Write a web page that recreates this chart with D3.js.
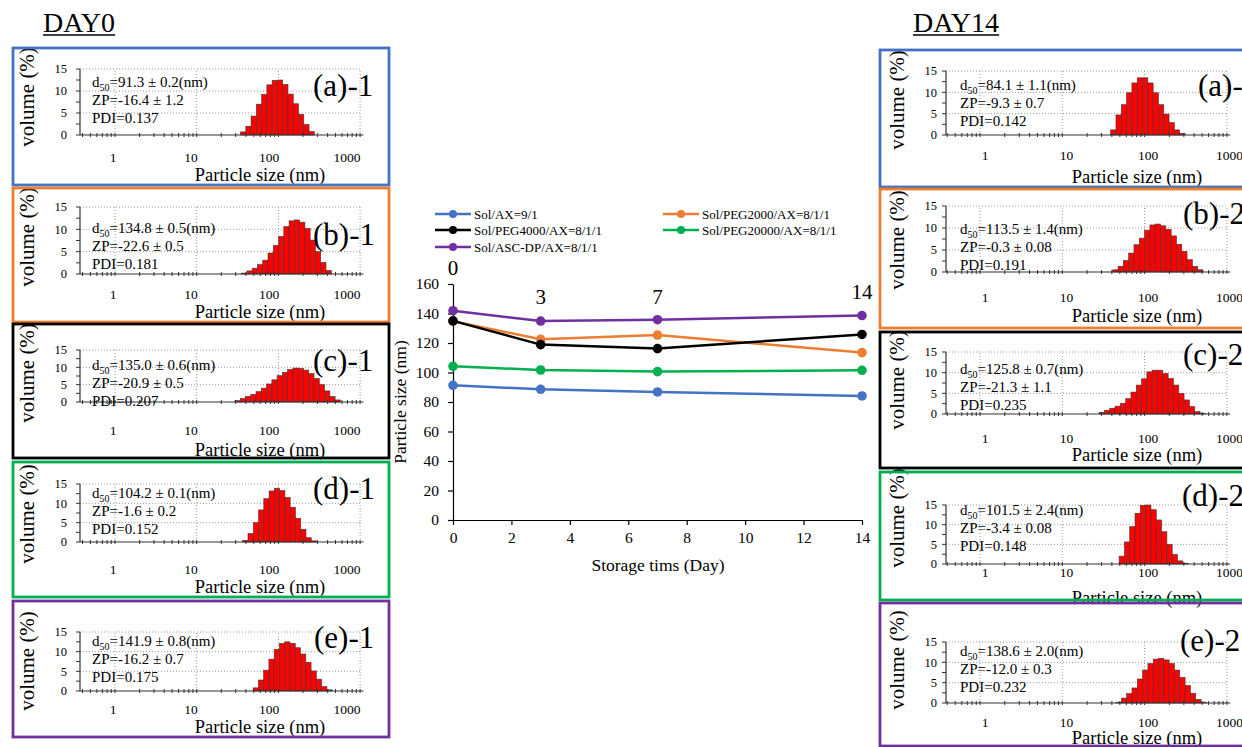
<!DOCTYPE html>
<html>
<head>
<meta charset="utf-8">
<script src="https://cdn.jsdelivr.net/npm/d3@7"></script>
<style>
  body { margin: 0; background: #fff; }
  svg { display: block; }
  svg text { font-family: "Liberation Serif", "Times New Roman", serif; }
</style>
</head>
<body>
<svg width="1242" height="747"></svg>
<script>
// ---- centre chart data ----
let days = [0, 3, 7, 14];
let dayTicks = [0, 2, 4, 6, 8, 10, 12, 14];
let sizeTicks = [0, 20, 40, 60, 80, 100, 120, 140, 160];
let seriesNames = ["Sol/AX=9/1", "Sol/PEG2000/AX=8/1/1", "Sol/PEG4000/AX=8/1/1",
                   "Sol/PEG20000/AX=8/1/1", "Sol/ASC-DP/AX=8/1/1"];
let seriesColors = ["#4472C4", "#ED7D31", "#000000", "#00B050", "#7030A0"];
let sizeAX = [91.3, 88.6, 86.8, 84.1];
let sizePEG2000 = [134.8, 122.5, 125.4, 113.5];
let sizePEG4000 = [135.0, 118.9, 116.2, 125.8];
let sizePEG20000 = [104.2, 101.7, 100.6, 101.5];
let sizeASC = [141.9, 134.9, 135.8, 138.6];
let dayLabels = ["0", "3", "7", "14"];

// ---- histogram panels data ----
let panelNames = ["(a)-1", "(b)-1", "(c)-1", "(d)-1", "(e)-1",
                  "(a)-2", "(b)-2", "(c)-2", "(d)-2", "(e)-2"];
let d50Values = ["91.3 ± 0.2", "134.8 ± 0.5", "135.0 ± 0.6", "104.2 ± 0.1", "141.9 ± 0.8",
                 "84.1 ± 1.1", "113.5 ± 1.4", "125.8 ± 0.7", "101.5 ± 2.4", "138.6 ± 2.0"];
let zpValues = ["-16.4 ± 1.2", "-22.6 ± 0.5", "-20.9 ± 0.5", "-1.6 ± 0.2", "-16.2 ± 0.7",
                "-9.3 ± 0.7", "-0.3 ± 0.08", "-21.3 ± 1.1", "-3.4 ± 0.08", "-12.0 ± 0.3"];
let pdiValues = ["0.137", "0.181", "0.207", "0.152", "0.175",
                 "0.142", "0.191", "0.235", "0.148", "0.232"];
// left edge of the first bar (nm)
let histStarts = [34.4, 35.5, 29.4, 36.6, 49, 38.7, 41, 28, 49, 45];
let histA1 = [0.7, 2.0, 4.3, 7.0, 9.2, 11.4, 12.4, 12.5, 11.5, 9.3, 7.1, 4.7, 2.4, 0.8];
let histB1 = [0.2, 0.7, 1.3, 2.1, 3.1, 4.7, 6.4, 8.4, 10.6, 11.9, 12.1, 11.6, 10.2, 7.6, 5.0, 2.6, 0.8];
let histC1 = [0.4, 1.0, 1.6, 2.2, 3.0, 4.0, 5.2, 6.4, 7.6, 8.6, 9.4, 9.8, 9.7, 9.2, 8.2, 6.8, 5.0, 3.2, 1.6, 0.6];
let histD1 = [0.4, 2.2, 5.0, 8.3, 11.2, 13.2, 13.9, 13.3, 11.5, 9.0, 6.1, 3.3, 1.1, 0.3];
let histE1 = [0.8, 2.8, 5.3, 8.1, 10.6, 12.1, 12.5, 12.1, 11.0, 9.4, 7.3, 5.1, 3.0, 1.1, 0.3];
let histA2 = [1.2, 4.7, 7.1, 9.9, 12.2, 13.4, 13.4, 12.2, 9.9, 7.1, 4.9, 2.9, 1.2, 0.4];
let histB2 = [0.5, 1.3, 2.6, 4.3, 6.2, 7.7, 9.5, 10.7, 10.9, 10.5, 9.7, 8.2, 6.3, 4.7, 2.8, 1.3, 0.5];
let histC2 = [0.4, 0.9, 1.4, 1.9, 2.6, 3.7, 5.3, 7.0, 8.5, 10.2, 10.6, 10.6, 9.8, 8.6, 7.0, 5.0, 3.4, 1.8, 0.6, 0.2];
let histD2 = [2.0, 5.6, 9.5, 12.9, 14.9, 15.0, 13.8, 11.2, 8.2, 5.0, 2.4, 0.8, 0.2];
let histE2 = [0.2, 1.2, 2.3, 3.7, 5.9, 8.1, 9.7, 10.8, 11.0, 10.6, 9.7, 8.1, 6.3, 4.3, 2.4, 0.9, 0.2];
let histograms = [histA1, histB1, histC1, histD1, histE1, histA2, histB2, histC2, histD2, histE2];
let volumeTicks = [0, 5, 10, 15];
let sizeLabels = [1, 10, 100, 1000];
let binsPerDecade = 15.5;

let svg = d3.select("svg");

// ---------------- layout of the panels (pixels) ----------------
// the tick labels of the pasted histograms sit on a slightly different spacing than the grid
let columns = [
    {axisX: 80, x1: 115, decade: 81.7, lab1: 113, labDecade: 78, textX: 92, ylabX: 67, titleX: 260, volX: 27, day: "DAY0", dayX: 43},
    {axisX: 946, x1: 980, decade: 82.3, lab1: 985, labDecade: 81.5, textX: 960, ylabX: 937, titleX: 1137, volX: 897, day: "DAY14", dayX: 913}
];
// box x,y,w,h | y of 15 and 0 | label x, baseline | text centre | volume centre | tick labels | title
let layout = [
    {box: [13, 48, 376, 137],  y15: 69,  y0: 135, lx: 313,  ly: 96,  ty: 82,  vy: 97,  xl: 162, tt: 181},
    {box: [13, 188, 376, 134], y15: 207, y0: 274, lx: 313,  ly: 245, ty: 228, vy: 237, xl: 299, tt: 318},
    {box: [13, 324, 376, 134], y15: 350, y0: 402, lx: 313,  ly: 371, ty: 365, vy: 373, xl: 435, tt: 456},
    {box: [13, 462, 376, 135], y15: 484, y0: 542, lx: 313,  ly: 499, ty: 493, vy: 514, xl: 574, tt: 593},
    {box: [13, 601, 376, 136], y15: 632, y0: 691, lx: 314,  ly: 648, ty: 641, vy: 661, xl: 714, tt: 733},
    {box: [880, 50, 376, 137], y15: 71,  y0: 135, lx: 1198, ly: 96,  ty: 85,  vy: 100, xl: 160, tt: 183},
    {box: [880, 189, 376, 139],y15: 206, y0: 272, lx: 1183, ly: 224, ty: 229, vy: 240, xl: 302, tt: 322},
    {box: [880, 332, 376, 136],y15: 352, y0: 414, lx: 1183, ly: 365, ty: 369, vy: 380, xl: 443, tt: 461},
    {box: [880, 472, 376, 128],y15: 505, y0: 564, lx: 1182, ly: 506, ty: 510, vy: 518, xl: 577, tt: 604},
    {box: [880, 603, 376, 143],y15: 642, y0: 703, lx: 1180, ly: 651, ty: 651, vy: 660, xl: 727, tt: 744}
];
let boxColors = ["#4472C4", "#ED7D31", "#000000", "#00B050", "#7030A0"];

// Day headings
columns.forEach(function(c) {
    let t = svg.append("text")
        .attr("x", c.dayX).attr("y", 32)
        .style("font-size", "28px")
        .text(c.day);
    let w = t.node().getComputedTextLength();
    svg.append("line")
        .attr("x1", c.dayX).attr("x2", c.dayX + w)
        .attr("y1", 35).attr("y2", 35)
        .style("stroke", "#000").style("stroke-width", 1.5);
});

function drawPanel(i) {
    let L = layout[i], C = columns[i < 5 ? 0 : 1];
    let g = svg.append("g");

    let xs = d3.scaleLog().domain([1, 1000]).range([C.x1, C.x1 + 3 * C.decade]);
    let xLab = d3.scaleLog().domain([1, 1000]).range([C.lab1, C.lab1 + 3 * C.labDecade]);
    let ys = d3.scaleLinear().domain([0, 15]).range([L.y0, L.y15]);
    let xEnd = xs(1100);

    // dotted grid
    g.selectAll(".hg").data(volumeTicks.slice(1)).enter().append("line")
        .attr("x1", C.axisX).attr("x2", xs(1000))
        .attr("y1", d => ys(d)).attr("y2", d => ys(d))
        .style("stroke", "#9a9a9a").style("stroke-dasharray", "1,2");
    g.selectAll(".vg").data(sizeLabels).enter().append("line")
        .attr("x1", d => xs(d)).attr("x2", d => xs(d))
        .attr("y1", L.y0).attr("y2", L.y15)
        .style("stroke", "#9a9a9a").style("stroke-dasharray", "1,2");

    // bars on log bins
    let r = Math.pow(10, 1 / binsPerDecade);
    let bars = histograms[i].map((v, k) => ({lo: histStarts[i] * Math.pow(r, k), hi: histStarts[i] * Math.pow(r, k + 1), v: v}));
    g.selectAll("rect").data(bars).enter().append("rect")
        .attr("x", d => xs(d.lo))
        .attr("width", d => xs(d.hi) - xs(d.lo))
        .attr("y", d => ys(d.v))
        .attr("height", d => ys(0) - ys(d.v))
        .style("fill", "#FF0000")
        .style("stroke", "#3a3a3a")
        .style("stroke-width", 0.6);

    // axes
    g.append("line").attr("x1", C.axisX).attr("x2", C.axisX).attr("y1", L.y0).attr("y2", L.y15)
        .style("stroke", "#333").style("stroke-width", 1.2);
    g.append("line").attr("x1", C.axisX).attr("x2", xEnd).attr("y1", L.y0).attr("y2", L.y0)
        .style("stroke", "#333").style("stroke-width", 1.2);
    g.selectAll(".yt").data(d3.range(0, 15.1, 2.5)).enter().append("line")
        .attr("x1", C.axisX - 4).attr("x2", C.axisX)
        .attr("y1", d => ys(d)).attr("y2", d => ys(d))
        .style("stroke", "#333");
    let minor = [];
    for (let e = -1; e <= 3; e++) {
        for (let m = 1; m <= 9; m++) {
            let v = m * Math.pow(10, e);
            if (v >= xs.invert(C.axisX) && v <= 1100) minor.push(v);
        }
    }
    g.selectAll(".xt").data(minor).enter().append("line")
        .attr("x1", d => xs(d)).attr("x2", d => xs(d))
        .attr("y1", L.y0 - 2).attr("y2", L.y0 + 2)
        .style("stroke", "#333");

    // tick labels
    g.selectAll(".yl").data(volumeTicks).enter().append("text")
        .attr("x", C.ylabX).attr("y", d => ys(d)).attr("dy", "0.35em")
        .attr("text-anchor", "end")
        .style("font-size", "12.5px")
        .text(d => d);
    g.selectAll(".xl").data(sizeLabels).enter().append("text")
        .attr("x", d => xLab(d)).attr("y", L.xl)
        .attr("text-anchor", "middle")
        .style("font-size", "13.5px")
        .text(d => d);

    // titles
    g.append("text")
        .attr("x", C.titleX).attr("y", L.tt)
        .attr("text-anchor", "middle")
        .style("font-size", "18.5px")
        .text("Particle size (nm)");
    g.append("text")
        .attr("transform", "translate(" + C.volX + "," + L.vy + ") rotate(-90)")
        .attr("text-anchor", "middle").attr("dy", "0.35em")
        .style("font-size", "21px")
        .text("volume (%)");

    // measurement text
    let d50 = g.append("text")
        .attr("x", C.textX).attr("y", L.ty + 5)
        .style("font-size", "15px");
    d50.append("tspan").text("d");
    d50.append("tspan").attr("dy", 4).style("font-size", "10px").text("50");
    d50.append("tspan").attr("dy", -4).text("=" + d50Values[i] + "(nm)");
    g.append("text")
        .attr("x", C.textX).attr("y", L.ty + 23)
        .style("font-size", "15px")
        .text("ZP=" + zpValues[i]);
    g.append("text")
        .attr("x", C.textX).attr("y", L.ty + 41)
        .style("font-size", "15px")
        .text("PDI=" + pdiValues[i]);

    // panel label
    g.append("text")
        .attr("x", L.lx).attr("y", L.ly)
        .style("font-size", "31px")
        .text(panelNames[i]);
}

for (let i = 0; i < panelNames.length; i++) drawPanel(i);

// boxes on top
layout.forEach(function(L, i) {
    svg.append("rect")
        .attr("x", L.box[0]).attr("y", L.box[1])
        .attr("width", L.box[2]).attr("height", L.box[3])
        .style("fill", "none")
        .style("stroke", boxColors[i % 5])
        .style("stroke-width", 2.8);
});

// ---------------- centre line chart ----------------
let x = d3.scaleLinear().domain([0, 14]).range([453, 862]);
let y = d3.scaleLinear().domain([0, 160]).range([520, 284]);

let xAxis = svg.append("g")
    .attr("transform", "translate(0,520)")
    .call(d3.axisBottom(x).tickValues(dayTicks).tickSize(5).tickSizeOuter(0).tickPadding(7));
let yAxis = svg.append("g")
    .attr("transform", "translate(453,0)")
    .call(d3.axisLeft(y).tickValues(sizeTicks).tickSize(5).tickSizeOuter(0).tickPadding(9));
[xAxis, yAxis].forEach(function(a) {
    a.attr("font-family", null).attr("font-size", null);
    a.selectAll("text").style("font-size", "15.5px").style("fill", "#000");
    a.selectAll("line, path").style("stroke", "#000").style("stroke-width", 1.2);
});

svg.append("text")
    .attr("x", 658).attr("y", 571)
    .attr("text-anchor", "middle")
    .style("font-size", "17.5px")
    .text("Storage tims (Day)");
svg.append("text")
    .attr("transform", "translate(400,402) rotate(-90)")
    .attr("text-anchor", "middle").attr("dy", "0.35em")
    .style("font-size", "17.5px")
    .text("Particle size (nm)");

let allSeries = [sizeAX, sizePEG2000, sizePEG4000, sizePEG20000, sizeASC];
let line = d3.line().x((d, k) => x(days[k])).y(d => y(d));

allSeries.forEach(function(s, i) {
    svg.append("path")
        .datum(s)
        .attr("d", line)
        .style("fill", "none")
        .style("stroke", seriesColors[i])
        .style("stroke-width", 2.5);
    svg.selectAll(".pt" + i).data(s).enter().append("circle")
        .attr("cx", (d, k) => x(days[k]))
        .attr("cy", d => y(d))
        .attr("r", 4.8)
        .style("fill", seriesColors[i]);
});

// day annotations above the lines
let dayLabelY = [275, 304, 304, 299];
days.forEach(function(d, k) {
    svg.append("text")
        .attr("x", x(d)).attr("y", dayLabelY[k])
        .attr("text-anchor", "middle")
        .style("font-size", "21px")
        .text(dayLabels[k]);
});

// legend
let legend = svg.selectAll(".legend").data(seriesNames).enter().append("g")
    .attr("transform", (d, i) => "translate(" + (i % 2 === 0 ? 435 : 663) + "," + [214, 230, 247][Math.floor(i / 2)] + ")");
legend.append("line")
    .attr("x1", 0).attr("x2", 36)
    .style("stroke", (d, i) => seriesColors[i])
    .style("stroke-width", 2.5);
legend.append("circle")
    .attr("cx", 18).attr("r", 4)
    .style("fill", (d, i) => seriesColors[i]);
legend.append("text")
    .attr("x", 39).attr("dy", "0.35em")
    .style("font-size", "13px")
    .text(d => d);
</script>
</body>
</html>
